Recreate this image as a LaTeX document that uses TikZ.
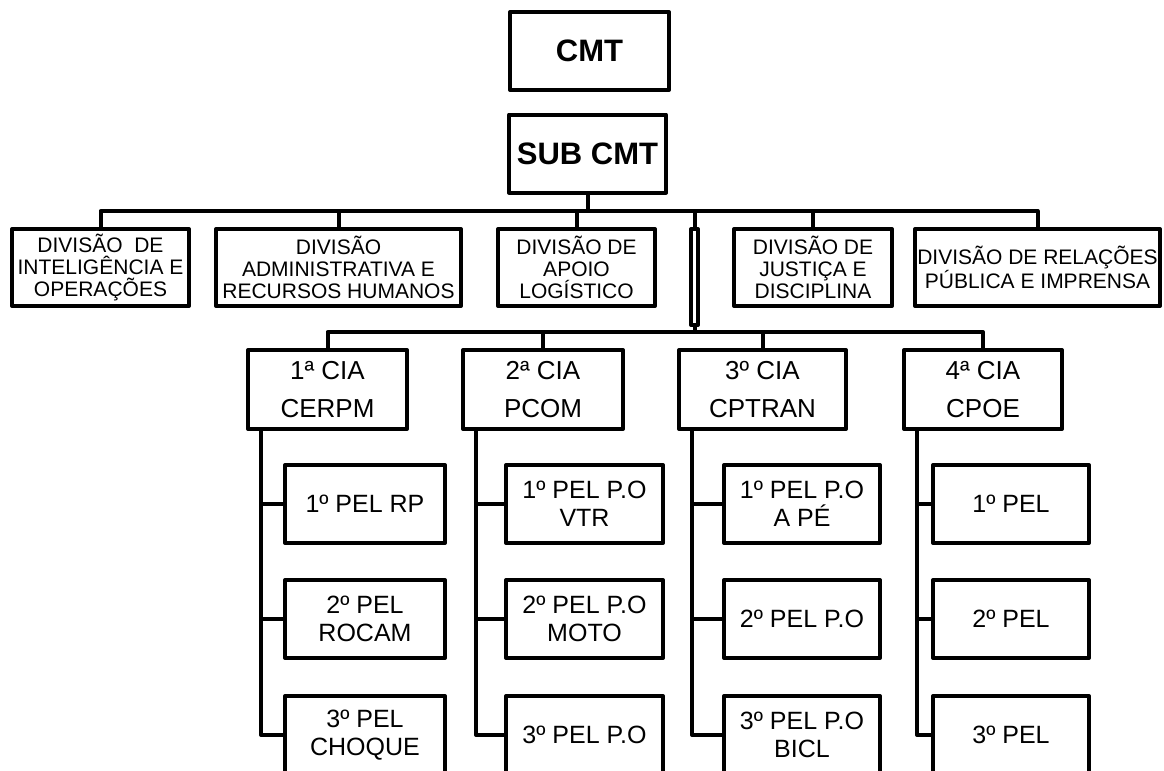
\documentclass[tikz,border=0pt]{standalone}
\usepackage{fontspec}
\setmainfont{Liberation Sans}

\begin{document}
\begin{tikzpicture}[x=0.5pt,y=-0.5pt,line width=2pt,line join=round,
  caixa/.style={draw,line width=2pt,inner sep=1pt,align=center},
  chefe/.style={caixa,minimum height=39pt,font=\bfseries\fontsize{15.5}{17}\selectfont},
  divisao/.style={caixa,minimum height=38.5pt,font=\fontsize{10.5}{11}\selectfont},
  cia/.style={caixa,minimum height=39.5pt,font=\fontsize{13}{19}\selectfont},
  pel/.style={caixa,minimum height=39pt,font=\fontsize{12.5}{14}\selectfont}]
 \useasboundingbox (0,0) rectangle (1164,771);
 \coordinate (bus1) at (0,211);
 \coordinate (bus2) at (0,332);

 % comando
 \draw (589.5,51) node[chefe,minimum width=79.5pt] (CMT) {CMT};
 \draw (587.5,153.5) node[chefe,minimum width=78.5pt] (SUBCMT) {SUB CMT};

 % divisoes
 \draw (100.5,267.5) node[divisao,minimum width=88.5pt] (DIVINT) {DIVISÃO\ \ DE\\INTELIGÊNCIA E\\OPERAÇÕES};
 \draw (338.5,267.5) node[divisao,minimum width=122.5pt] (DIVADM) {DIVISÃO\\ADMINISTRATIVA E\\RECURSOS HUMANOS};
 \draw (576.5,267.5) node[divisao,minimum width=78.5pt] (DIVLOG) {DIVISÃO DE\\APOIO\\LOGÍSTICO};
 \draw (694.5,277) node[caixa,minimum width=3.5pt,minimum height=48pt,inner sep=0pt] (HASTE) {};
 \draw (813,267.5) node[divisao,minimum width=79pt] (DIVJUS) {DIVISÃO DE\\JUSTIÇA E\\DISCIPLINA};
 \draw (1037.5,267.5) node[divisao,minimum width=122.5pt] (DIVREL) {DIVISÃO DE RELAÇÕES\\PÚBLICA E IMPRENSA};

 % companhias
 \draw (327.5,389.5) node[cia,minimum width=79.5pt] (CIA1) {1ª CIA\\CERPM};
 \draw (543,389.5) node[cia,minimum width=80pt] (CIA2) {2ª CIA\\PCOM};
 \draw (762.5,389.5) node[cia,minimum width=83.5pt] (CIA3) {3º CIA\\CPTRAN};
 \draw (983,389.5) node[cia,minimum width=79pt] (CIA4) {4ª CIA\\CPOE};

 % pelotoes
 \draw (365,504) node[pel,minimum width=80pt] (PEL11) {1º PEL RP};
 \draw (365,619) node[pel,minimum width=80pt] (PEL12) {2º PEL\\ROCAM};
 \draw (365,735) node[pel,minimum width=80pt] (PEL13) {3º PEL\\CHOQUE};
 \draw (584.5,504) node[pel,minimum width=78.5pt] (PEL21) {1º PEL P.O\\VTR};
 \draw (584.5,619) node[pel,minimum width=78.5pt] (PEL22) {2º PEL P.O\\MOTO};
 \draw (584.5,735) node[pel,minimum width=78.5pt] (PEL23) {3º PEL P.O};
 \draw (802,504) node[pel,minimum width=78pt] (PEL31) {1º PEL P.O\\A PÉ};
 \draw (802,619) node[pel,minimum width=78pt] (PEL32) {2º PEL P.O};
 \draw (802,735) node[pel,minimum width=78pt] (PEL33) {3º PEL P.O\\BICL};
 \draw (1011,504) node[pel,minimum width=78pt] (PEL41) {1º PEL};
 \draw (1011,619) node[pel,minimum width=78pt] (PEL42) {2º PEL};
 \draw (1011,735) node[pel,minimum width=78pt] (PEL43) {3º PEL};

 % ligacoes
 \draw (SUBCMT.south) -- (SUBCMT.south |- bus1);
 \draw (DIVINT.north) -- (DIVINT.north |- bus1) -- (DIVREL.north |- bus1) -- (DIVREL.north);
 \draw (DIVADM.north) -- (DIVADM.north |- bus1);
 \draw (DIVLOG.north) -- (DIVLOG.north |- bus1);
 \draw (HASTE.north) -- (HASTE.north |- bus1);
 \draw (DIVJUS.north) -- (DIVJUS.north |- bus1);
 \draw (HASTE.south) -- (HASTE.south |- bus2);
 \draw (CIA1.north) -- (CIA1.north |- bus2) -- (CIA4.north |- bus2) -- (CIA4.north);
 \draw (CIA2.north) -- (CIA2.north |- bus2);
 \draw (CIA3.north) -- (CIA3.north |- bus2);

 \coordinate (T1) at ([xshift=7.5pt]CIA1.south west);
 \coordinate (T2) at ([xshift=7.5pt]CIA2.south west);
 \coordinate (T3) at ([xshift=7.5pt]CIA3.south west);
 \coordinate (T4) at ([xshift=7.5pt]CIA4.south west);
 \draw (T1) |- (PEL13.west);
 \draw (T1 |- PEL11.west) -- (PEL11.west);
 \draw (T1 |- PEL12.west) -- (PEL12.west);
 \draw (T2) |- (PEL23.west);
 \draw (T2 |- PEL21.west) -- (PEL21.west);
 \draw (T2 |- PEL22.west) -- (PEL22.west);
 \draw (T3) |- (PEL33.west);
 \draw (T3 |- PEL31.west) -- (PEL31.west);
 \draw (T3 |- PEL32.west) -- (PEL32.west);
 \draw (T4) |- (PEL43.west);
 \draw (T4 |- PEL41.west) -- (PEL41.west);
 \draw (T4 |- PEL42.west) -- (PEL42.west);
\end{tikzpicture}
\end{document}
